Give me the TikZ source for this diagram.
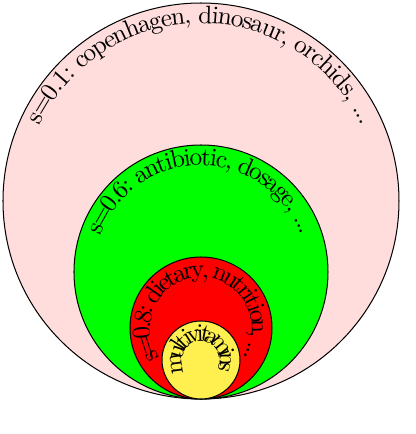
\documentclass[tikz,border=0pt]{standalone}
\usetikzlibrary{decorations.text}
\definecolor{ringpink}{RGB}{255,221,221}
\definecolor{ringyellow}{RGB}{255,240,80}
\tikzset{
    ring/.style={draw=black, fill=#1},
    ringtext/.style={decorate, decoration={text along path, text={#1}, text align=center, raise=-8pt}}
}
\begin{document}
\begin{tikzpicture}[x=0.01385cm, y=0.01385cm]
    \useasboundingbox (-201,-35) rectangle (215,399);

    % s=0.1
    \filldraw[ring=ringpink] (0,198) circle (198);
    \path[ringtext={s=0.1: copenhagen, dinosaur, orchids, ...}]
        (0,0) arc[start angle=270, end angle=-90, radius=198];

    % s=0.6
    \filldraw[ring=green] (0,127) circle (127);
    \path[ringtext={s=0.6: antibiotic, dosage, ...}]
        (0,0) arc[start angle=270, end angle=-90, radius=127];

    % s=0.8
    \filldraw[ring=red] (0,71) circle (71);
    \path[ringtext={s=0.8: dietary, nutrition, ...}]
        (0,0) arc[start angle=270, end angle=-90, radius=71];

    % innermost
    \filldraw[ring=ringyellow] (0,39) circle (39);
    \path[ringtext={multivitamins}]
        (0,0) arc[start angle=270, end angle=-90, radius=39];
\end{tikzpicture}
\end{document}
